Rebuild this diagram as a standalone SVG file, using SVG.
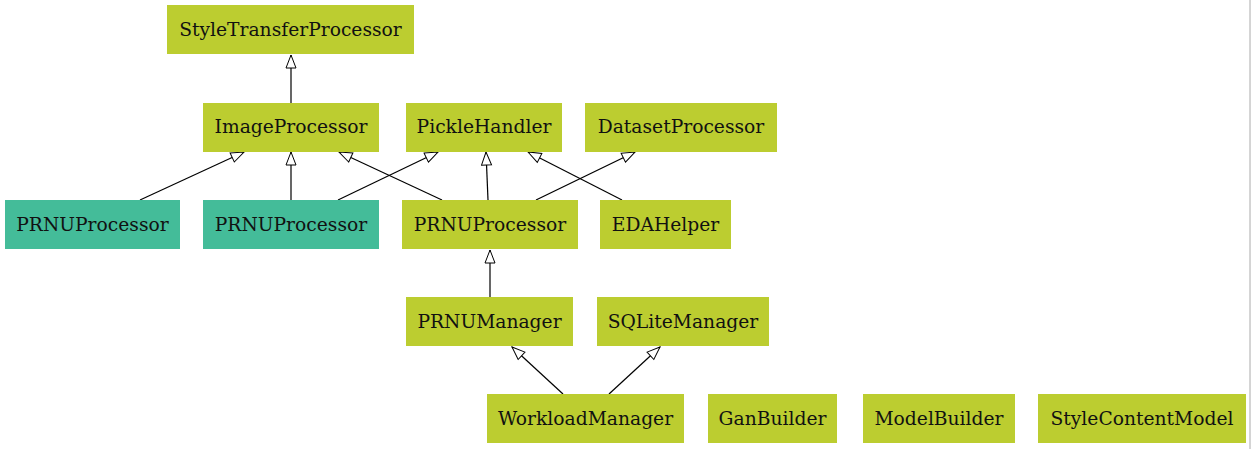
<svg xmlns="http://www.w3.org/2000/svg" width="1251" height="449" viewBox="0 0 1251 449">
<defs>
<marker id="tri" viewBox="0 0 15 12" refX="14" refY="6" markerWidth="15" markerHeight="12" markerUnits="userSpaceOnUse" orient="auto">
<path d="M1,1 L14,6 L1,11 Z" fill="#ffffff" stroke="#000000" stroke-width="1"/>
</marker>
</defs>
<style>
.g{fill:#bccd30}
.t{fill:#44bc99}
text{font-family:"DejaVu Serif",serif;font-size:18.7px;fill:#111111;text-anchor:middle}
.e{stroke:#000000;stroke-width:1.2;fill:none;marker-end:url(#tri)}
</style>
<rect x="0" y="0" width="1251" height="449" fill="#ffffff"/>
<line x1="1250" y1="0" x2="1250" y2="449" stroke="#aaaaaa" stroke-width="1"/>
<g id="connectors">
<line class="e" x1="291" y1="103" x2="291" y2="55"/>
<line class="e" x1="140" y1="200" x2="244" y2="152"/>
<line class="e" x1="291" y1="200" x2="291" y2="152"/>
<line class="e" x1="338" y1="200" x2="438" y2="152"/>
<line class="e" x1="442" y1="200" x2="339" y2="152"/>
<line class="e" x1="488" y1="200" x2="486" y2="152"/>
<line class="e" x1="536" y1="200" x2="635" y2="152"/>
<line class="e" x1="622" y1="200" x2="528" y2="152"/>
<line class="e" x1="490" y1="297" x2="490" y2="250"/>
<line class="e" x1="563" y1="394" x2="512" y2="347"/>
<line class="e" x1="609" y1="394" x2="660" y2="347"/>
</g>
<g id="StyleTransferProcessor"><rect class="g" x="167" y="5" width="247" height="49"/><text x="290.5" y="35.5">StyleTransferProcessor</text></g>
<g id="ImageProcessor"><rect class="g" x="203" y="103" width="176" height="49"/><text x="291" y="133">ImageProcessor</text></g>
<g id="PickleHandler"><rect class="g" x="406" y="103" width="156" height="49"/><text x="484" y="133">PickleHandler</text></g>
<g id="DatasetProcessor"><rect class="g" x="585" y="103" width="192" height="49"/><text x="681" y="133">DatasetProcessor</text></g>
<g id="PRNUProcessor1"><rect class="t" x="5" y="200" width="175" height="49"/><text x="92.5" y="230.5">PRNUProcessor</text></g>
<g id="PRNUProcessor2"><rect class="t" x="203" y="200" width="176" height="49"/><text x="291" y="230.5">PRNUProcessor</text></g>
<g id="PRNUProcessor3"><rect class="g" x="402" y="200" width="176" height="49"/><text x="490" y="230.5">PRNUProcessor</text></g>
<g id="EDAHelper"><rect class="g" x="600" y="200" width="131" height="49"/><text x="665.5" y="230.5">EDAHelper</text></g>
<g id="PRNUManager"><rect class="g" x="406" y="297" width="167" height="49"/><text x="489.5" y="327.5">PRNUManager</text></g>
<g id="SQLiteManager"><rect class="g" x="597" y="297" width="172" height="49"/><text x="683" y="327.5">SQLiteManager</text></g>
<g id="WorkloadManager"><rect class="g" x="487" y="394" width="197" height="49"/><text x="585.5" y="424.5">WorkloadManager</text></g>
<g id="GanBuilder"><rect class="g" x="708" y="394" width="129" height="49"/><text x="772.5" y="424.5">GanBuilder</text></g>
<g id="ModelBuilder"><rect class="g" x="863" y="394" width="152" height="49"/><text x="939" y="424.5">ModelBuilder</text></g>
<g id="StyleContentModel"><rect class="g" x="1038" y="394" width="208" height="49"/><text x="1142" y="424.5">StyleContentModel</text></g>
</svg>
